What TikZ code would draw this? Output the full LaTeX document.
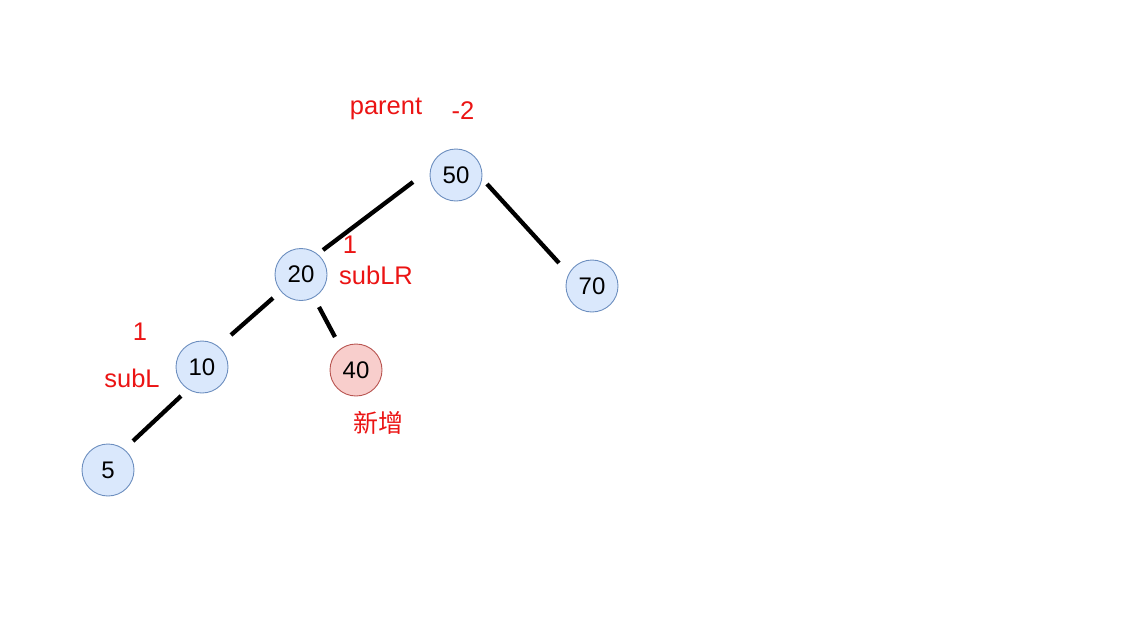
\documentclass[tikz,border=0pt]{standalone}
\usepackage{fontspec}
\setmainfont{Liberation Sans}
\newfontfamily\cjk{Noto Sans CJK SC}
\usetikzlibrary{calc}
\definecolor{nodefill}{HTML}{DAE8FC}
\definecolor{nodeline}{HTML}{6C8EBF}
\definecolor{newfill}{HTML}{F8CECC}
\definecolor{newline}{HTML}{B85450}
\definecolor{lblred}{RGB}{235,20,20}
\begin{document}
\begin{tikzpicture}[x=1pt,y=-1pt,
  treenode/.style={circle,draw=nodeline,fill=nodefill,line width=0.9pt,minimum size=52pt,inner sep=0pt,font=\fontsize{24}{27}\selectfont},
  newnode/.style={treenode,draw=newline,fill=newfill},
  lbl/.style={text=lblred,inner sep=0pt,font=\fontsize{25.5}{29}\selectfont},
  edge/.style={line width=4.3pt,black}]
\useasboundingbox (0,0) rectangle (1121,633);
\node[treenode] (n50) at (456,175) {50};
\node[treenode] (n70) at (592,286) {70};
\node[treenode] (n20) at (301,274.5) {20};
\node[treenode] (n10) at (202,367) {10};
\node[newnode]  (n40) at (356,370) {40};
\node[treenode] (n5)  at (108,470) {5};
\draw[edge] ($(n50)+(-43,7)$) -- ($(n20)+(22,-24.5)$);
\draw[edge] ($(n50)+(31,9)$) -- ($(n70)+(-33,-23)$);
\draw[edge] ($(n20)+(-28,23.5)$) -- ($(n10)+(29,-32)$);
\draw[edge] ($(n20)+(18,32.5)$) -- ($(n40)+(-21,-33)$);
\draw[edge] ($(n10)+(-21,29)$) -- ($(n5)+(25,-29)$);
\node[lbl] (lparent) at (386,109) {parent};
\node[lbl] (lm2) at (463,111) {-2};
\node[lbl] (l1a) at (350,245) {1};
\node[lbl] (lsubLR) at (376,275) {subLR};
\node[lbl] (l1b) at (140,332) {1};
\node[lbl] (lsubL) at (132,378) {subL};
\node[lbl,font=\cjk\fontsize{25}{29}\selectfont] (lnew) at (378,423) {新增};
\end{tikzpicture}
\end{document}
